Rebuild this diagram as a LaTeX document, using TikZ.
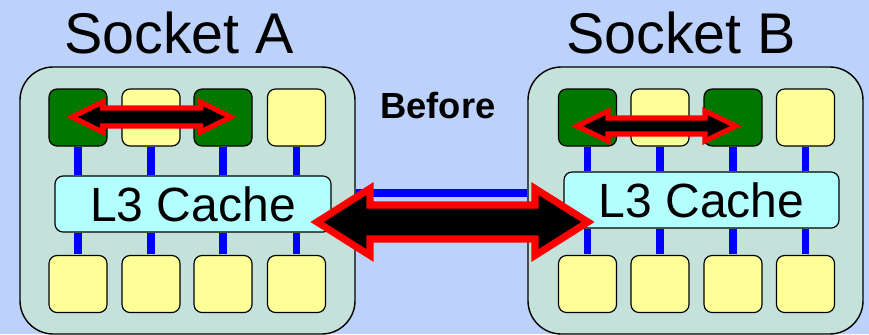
\documentclass[tikz,border=0pt]{standalone}
\usepackage{fontspec}
\setmainfont{Liberation Sans}
\usepackage{tikz}
\definecolor{sfondo}{HTML}{BCD2FB}
\definecolor{grigioverde}{HTML}{C4E2DA}
\definecolor{verde}{HTML}{007800}
\definecolor{giallo}{HTML}{FFFF99}
\definecolor{ciano}{HTML}{B3FFFF}
\definecolor{blu}{HTML}{0000FF}
\definecolor{rosso}{HTML}{FF0000}
% freccia doppia piena: {x sinistra}{x destra}{y}{mezzo fusto}{mezza punta}{lunghezza punta}
\newcommand{\frecciadoppia}[6]{%
  (#1,#3) -- ({#1+#6},{#3-#5}) -- ({#1+#6},{#3-#4}) -- ({#2-#6},{#3-#4})
  -- ({#2-#6},{#3-#5}) -- (#2,#3) -- ({#2-#6},{#3+#5}) -- ({#2-#6},{#3+#4})
  -- ({#1+#6},{#3+#4}) -- ({#1+#6},{#3+#5}) -- cycle}

\begin{document}
\begin{tikzpicture}[x=0.03cm, y=-0.03cm,
    sockbox/.style={draw=black, line width=1.2pt, fill=grigioverde,
      rounded corners=1cm, minimum width=10.05cm, minimum height=8.01cm, inner sep=0pt},
    corebox/.style={draw=black, line width=1pt, rounded corners=0.24cm,
      minimum width=1.74cm, minimum height=1.71cm, inner sep=0pt},
    cachebox/.style={draw=black, line width=1pt, fill=ciano, rounded corners=0.24cm,
      minimum width=8.28cm, minimum height=1.68cm, inner sep=0pt,
      font=\fontsize{41}{45}\selectfont},
    titolo/.style={anchor=base, font=\fontsize{49}{55}\selectfont},
    linea/.style={blu, line width=6.8pt, shorten <=0.6pt, shorten >=0.6pt},
    bus/.style={blu, line width=6pt},
    grossa/.style={fill=black, draw=rosso, line width=6pt, miter limit=10},
    piccola/.style={fill=black, draw=rosso, line width=4.3pt, miter limit=10}]
    % Sfondo
    \useasboundingbox (0,0) rectangle (869,334);
    \fill[sfondo] (0,0) rectangle (869,334);
    % Collegamento tra i socket
    \coordinate (qpi) at (0,193);
    \node[sockbox] (sA) at (187.5,200.5) {};
    \node[sockbox] (sB) at (695.5,200.5) {};
    \draw[bus] (sA.east |- qpi) -- (sB.west |- qpi);
    % Titoli
    \node[titolo] (tA) at (179,53) {Socket A};
    \node[titolo] (tB) at (681,53) {Socket B};
    \node[anchor=base, font=\fontsize{31}{35}\selectfont\bfseries] (prima) at (438,118) {Before};
    % Cache L3
    \node[cachebox] (cA) at (193,204) {L3 Cache};
    \node[cachebox, minimum width=8.25cm] (cB) at (701.5,200) {L3 Cache};
    % Core socket A
    \foreach \x/\c [count=\i] in {78/verde,151/giallo,223/verde,296.5/giallo} {
      \node[corebox, fill=\c] (aA\i) at (\x,117.5) {};
      \node[corebox, fill=giallo] (bA\i) at (\x,284) {};
      \draw[linea] (aA\i.south) -- (aA\i.south |- cA.north);
      \draw[linea] (bA\i.north) -- (bA\i.north |- cA.south);
    }
    % Core socket B
    \foreach \x/\c [count=\i] in {587.5/verde,660/giallo,733/verde,805.5/giallo} {
      \node[corebox, fill=\c] (aB\i) at (\x,117.5) {};
      \node[corebox, fill=giallo] (bB\i) at (\x,284) {};
      \draw[linea] (aB\i.south) -- (aB\i.south |- cB.north);
      \draw[linea] (bB\i.north) -- (bB\i.north |- cB.south);
    }
    % Frecce
    \draw[piccola] \frecciadoppia{72}{231}{117}{9}{15}{30.5};
    \draw[piccola] \frecciadoppia{577}{736}{126}{8}{15}{31};
    \draw[grossa] \frecciadoppia{317}{588}{222}{17}{33.5}{53};
\end{tikzpicture}
\end{document}
